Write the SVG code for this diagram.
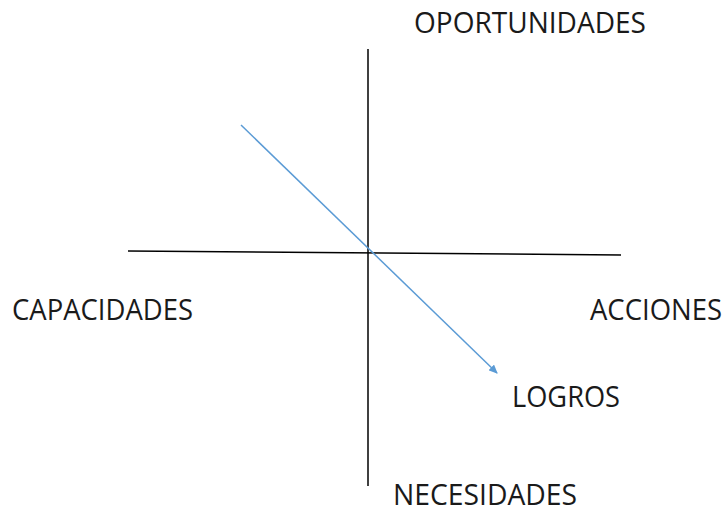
<svg xmlns="http://www.w3.org/2000/svg" width="726" height="513" viewBox="0 0 726 513">
<style>
.lbl{font-family:"Open Sans","Liberation Sans",sans-serif;font-size:28.5px;fill:#1a1a1a}
.axis{stroke:#000;stroke-width:1.5;fill:none}
</style>
<defs>
<marker id="ah" markerWidth="9" markerHeight="8" refX="8" refY="4" orient="auto" markerUnits="userSpaceOnUse" viewBox="0 0 9 8">
<path d="M0,0 L9,4 L0,8 Z" fill="#5B9BD5"/>
</marker>
</defs>
<g id="connectors">
<line class="axis" x1="368" y1="49" x2="368" y2="486"/>
<line class="axis" x1="128" y1="251" x2="621" y2="255" stroke-width="2" stroke="#222"/>
<line x1="241" y1="125" x2="497" y2="373" stroke="#5B9BD5" stroke-width="1.5" marker-end="url(#ah)"/>
</g>
<g id="oportunidades"><text class="lbl" x="414" y="33" textLength="232" lengthAdjust="spacingAndGlyphs">OPORTUNIDADES</text></g>
<g id="capacidades"><text class="lbl" x="12" y="320" textLength="181" lengthAdjust="spacingAndGlyphs">CAPACIDADES</text></g>
<g id="acciones"><text class="lbl" x="590" y="320" textLength="132" lengthAdjust="spacingAndGlyphs">ACCIONES</text></g>
<g id="logros"><text class="lbl" x="512" y="407" textLength="108" lengthAdjust="spacingAndGlyphs">LOGROS</text></g>
<g id="necesidades"><text class="lbl" x="393" y="505" font-size="27.5" textLength="184" lengthAdjust="spacingAndGlyphs">NECESIDADES</text></g>
</svg>
